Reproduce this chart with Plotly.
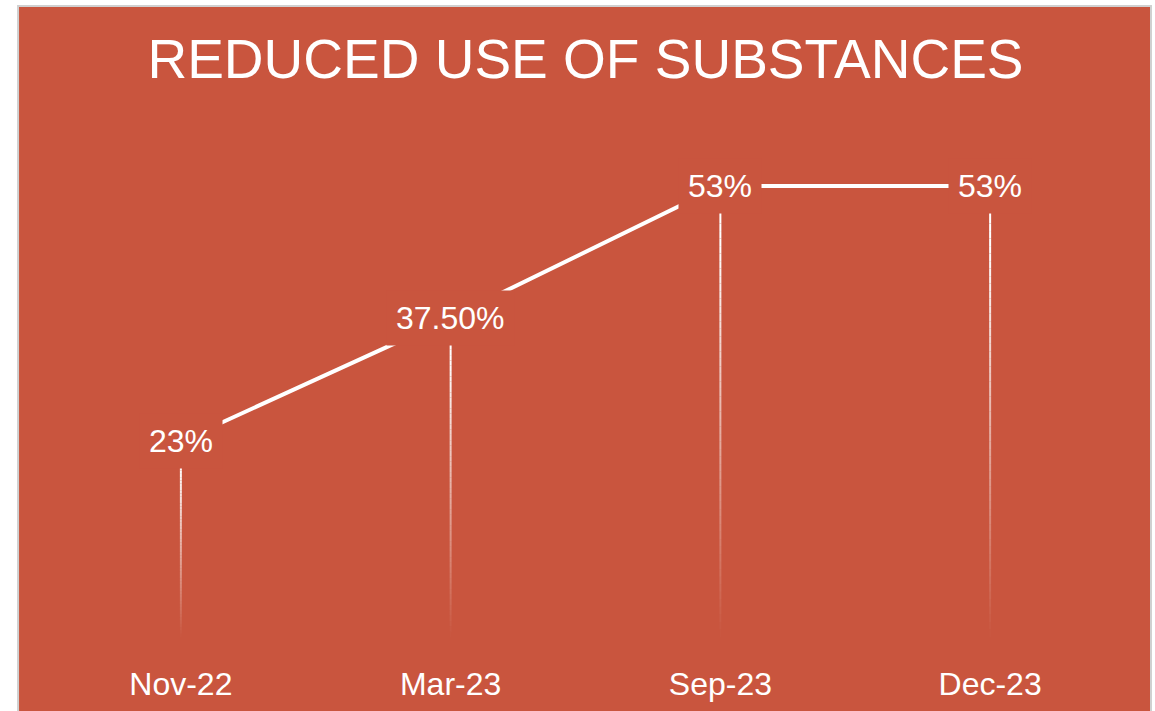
import plotly.graph_objects as go

categories = ["Nov-22", "Mar-23", "Sep-23", "Dec-23"]
values = [23, 37.5, 53, 53]
value_labels = ["23%", "37.50%", "53%", "53%"]
title_text = "REDUCED USE OF SUBSTANCES"

BG = "#C9553E"
WHITE = "#FFFFFF"
FONT = "Liberation Sans, Arial, sans-serif"

fig = go.Figure()

# main line
fig.add_trace(go.Scatter(
    x=categories, y=values, mode="lines",
    line=dict(color=WHITE, width=4),
    hoverinfo="skip", showlegend=False,
))

shapes = []
# background panel
shapes.append(dict(type="rect", xref="paper", yref="paper",
                   x0=-0.0259, x1=1.0241, y0=-0.2, y1=1.2205,
                   fillcolor=BG, line=dict(color="#D0D0D0", width=2),
                   layer="below"))

# gradient drop lines
N = 60
for i, (c, v) in enumerate(zip(categories, values)):
    for k in range(N):
        y0 = v * k / N
        y1 = v * (k + 1) / N
        alpha = min(1.0, 1.15 * (k + 0.5) / N)
        shapes.append(dict(type="line", xref="x", yref="y",
                           x0=i, x1=i, y0=y0, y1=y1,
                           line=dict(color=f"rgba(255,255,255,{alpha:.3f})", width=2),
                           layer="above"))

annotations = []
for c, v, t in zip(categories, values, value_labels):
    annotations.append(dict(x=c, y=v, xref="x", yref="y", text=t,
                            showarrow=False, bgcolor=BG, borderpad=9,
                            font=dict(family=FONT, size=32, color=WHITE)))

fig.update_layout(
    width=1155, height=711,
    paper_bgcolor="white", plot_bgcolor="rgba(0,0,0,0)",
    margin=dict(l=46, r=30, t=120, b=74, autoexpand=False),
    title=dict(text=title_text, x=0.5, xref="paper", xanchor="center",
               y=0.917, yref="container", yanchor="middle",
               font=dict(family=FONT, size=55, color=WHITE)),
    xaxis=dict(type="category", range=[-0.5, 3.5], showgrid=False,
               zeroline=False, showline=False, ticks="",
               ticklabelstandoff=25,
               tickfont=dict(family=FONT, size=32, color=WHITE)),
    yaxis=dict(range=[0, 60.75], showgrid=False, zeroline=False,
               showline=False, showticklabels=False, ticks=""),
    shapes=shapes,
    annotations=annotations,
    showlegend=False,
)

fig.write_html("out.html")
